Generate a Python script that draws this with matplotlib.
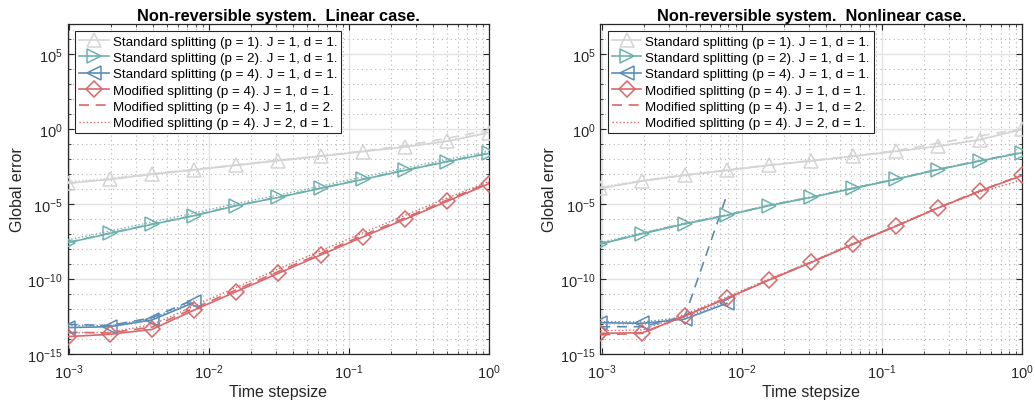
import numpy as np
import matplotlib
matplotlib.use("Agg")
import matplotlib.pyplot as plt
from matplotlib.ticker import FixedLocator, NullFormatter, FuncFormatter

plt.rcParams['font.family'] = ['Liberation Sans', 'DejaVu Sans']
plt.rcParams['mathtext.fontset'] = 'custom'
plt.rcParams['mathtext.rm'] = 'Liberation Sans'

# ---------------- data ----------------
stepsizes = [0.0009765625, 0.001953125, 0.00390625, 0.0078125, 0.015625,
             0.03125, 0.0625, 0.125, 0.25, 0.5, 1.0]
stepsizes_p4 = [0.0009765625, 0.001953125, 0.00390625, 0.0078125]

titles = ["Non-reversible system.  Linear case.",
          "Non-reversible system.  Nonlinear case."]

labels = ["Standard splitting (p = 1). J = 1, d = 1.",
          "Standard splitting (p = 2). J = 1, d = 1.",
          "Standard splitting (p = 4). J = 1, d = 1.",
          "Modified splitting (p = 4). J = 1, d = 1.",
          "Modified splitting (p = 4). J = 1, d = 2.",
          "Modified splitting (p = 4). J = 2, d = 1."]

# log10 of global error; solid = (J=1,d=1), dashed = (J=1,d=2), dotted = (J=2,d=1)
lin_std1_solid = [-3.62, -3.36, -3.02, -2.73, -2.42, -2.11, -1.82, -1.51, -1.20, -0.82, -0.24]
lin_std1_dash = [-3.60, -3.35, -3.00, -2.71, -2.40, -2.09, -1.80, -1.48, -1.10, -0.62, -0.07]
lin_std1_dot = [-3.50, -3.28, -2.96, -2.68, -2.38, -2.07, -1.78, -1.47, -1.16, -0.78, -0.20]
lin_std2_solid = [-7.58, -6.96, -6.36, -5.78, -5.11, -4.56, -3.96, -3.36, -2.76, -2.18, -1.62]
lin_std2_dash = [-7.56, -6.94, -6.34, -5.76, -5.10, -4.54, -3.94, -3.34, -2.74, -2.16, -1.60]
lin_std2_dot = [-7.40, -6.80, -6.20, -5.60, -4.96, -4.40, -3.80, -3.20, -2.60, -2.03, -1.47]
lin_std4_solid = [-13.24, -13.18, -12.73, -11.56]
lin_std4_dash = [-13.02, -13.10, -12.58, -11.36]
lin_std4_dot = [-13.10, -13.12, -12.62, -11.45]
lin_mod_solid = [-13.84, -13.69, -13.36, -12.07, -10.84, -9.62, -8.40, -7.20, -6.02, -4.82, -3.64]
lin_mod_dash = [-13.55, -13.60, -13.20, -11.95, -10.72, -9.50, -8.30, -7.10, -5.93, -4.74, -3.57]
lin_mod_dot = [-13.60, -13.55, -13.05, -11.80, -10.55, -9.33, -8.12, -6.93, -5.76, -4.60, -3.50]

nl_std1_solid = [-3.96, -3.47, -3.09, -2.76, -2.42, -2.13, -1.82, -1.49, -1.16, -0.71, -0.02]
nl_std1_dash = [-3.94, -3.45, -3.07, -2.74, -2.40, -2.11, -1.80, -1.45, -0.95, -0.45, 0.00]
nl_std1_dot = [-3.85, -3.42, -3.05, -2.72, -2.40, -2.10, -1.79, -1.47, -1.14, -0.69, -0.02]
nl_std2_solid = [-7.67, -6.98, -6.33, -5.76, -5.11, -4.56, -3.96, -3.36, -2.71, -2.13, -1.58]
nl_std2_dash = [-7.65, -6.96, -6.31, -5.74, -5.09, -4.54, -3.94, -3.34, -2.69, -2.11, -1.56]
nl_std2_dot = [-7.58, -6.92, -6.28, -5.71, -5.07, -4.52, -3.92, -3.32, -2.68, -2.10, -1.55]
nl_std4_solid = [-12.91, -12.96, -12.67, -11.62]
nl_std4_dash = [-13.18, -13.18, -12.51, -4.40]
nl_std4_dot = [-12.84, -12.86, -12.55, -11.50]
nl_mod_solid = [-13.62, -13.58, -12.47, -11.29, -10.07, -8.89, -7.67, -6.49, -5.27, -4.13, -3.09]
nl_mod_dash = [-13.72, -13.62, -12.45, -11.27, -10.05, -8.87, -7.65, -6.47, -5.25, -4.11, -3.07]
nl_mod_dot = [-13.45, -13.40, -12.35, -11.20, -10.00, -8.85, -7.62, -6.45, -5.25, -4.20, -3.40]

# ---------------- styles ----------------
c_gray = '#d4d4d4'
c_teal = '#6fb0ae'
c_blue = '#5b8cb5'
c_red = '#d9686b'
frame_col = '#262626'

fig = plt.figure(figsize=(10.35, 4.06), dpi=100)
ax_pos = [[0.0654, 0.1256, 0.4072, 0.8128], [0.58, 0.1256, 0.4077, 0.8128]]

datasets = [
    [(stepsizes, lin_std1_solid, lin_std1_dash, lin_std1_dot, c_gray, '^'),
     (stepsizes, lin_std2_solid, lin_std2_dash, lin_std2_dot, c_teal, '>'),
     (stepsizes_p4, lin_std4_solid, lin_std4_dash, lin_std4_dot, c_blue, '<'),
     (stepsizes, lin_mod_solid, lin_mod_dash, lin_mod_dot, c_red, 'D')],
    [(stepsizes, nl_std1_solid, nl_std1_dash, nl_std1_dot, c_gray, '^'),
     (stepsizes, nl_std2_solid, nl_std2_dash, nl_std2_dot, c_teal, '>'),
     (stepsizes_p4, nl_std4_solid, nl_std4_dash, nl_std4_dot, c_blue, '<'),
     (stepsizes, nl_mod_solid, nl_mod_dash, nl_mod_dot, c_red, 'D')],
]

def fmt(v, pos):
    e = int(round(np.log10(v)))
    return r'$\mathregular{10^{%d}}$' % e

for i in range(2):
    ax = fig.add_axes(ax_pos[i])
    handles = []
    dash_h = dot_h = None
    for (x, ys, yd, yt, col, mk) in datasets[i]:
        ms = 8 if mk == 'D' else 10
        h, = ax.plot(x, np.power(10.0, ys), color=col, lw=1.2, marker=mk, ms=ms,
                     mfc='none', mec=col, mew=1.1, zorder=4)
        handles.append(h)
        hd, = ax.plot(x, np.power(10.0, yd), color=col, lw=1.2, ls=(0, (6, 4)), zorder=3)
        ht, = ax.plot(x, np.power(10.0, yt), color=col, lw=1.0, ls=(0, (1, 1.6)), zorder=3)
        if col == c_red:
            dash_h, dot_h = hd, ht
    handles += [dash_h, dot_h]

    ax.set_xscale('log')
    ax.set_yscale('log')
    ax.set_xlim(0.0009765625, 1.0)
    ax.set_ylim(1e-15, 1e7)

    ax.xaxis.set_major_locator(FixedLocator([1e-3, 1e-2, 1e-1, 1e0]))
    ax.xaxis.set_minor_locator(FixedLocator([m * 10.0 ** d for d in (-3, -2, -1) for m in range(2, 10)]))
    ax.yaxis.set_major_locator(FixedLocator([1e-15, 1e-10, 1e-5, 1e0, 1e5]))
    ax.yaxis.set_minor_locator(FixedLocator([10.0 ** k for k in range(-15, 8) if k % 5 != 0]))
    ax.xaxis.set_major_formatter(FuncFormatter(fmt))
    ax.yaxis.set_major_formatter(FuncFormatter(fmt))
    ax.xaxis.set_minor_formatter(NullFormatter())
    ax.yaxis.set_minor_formatter(NullFormatter())

    ax.grid(True, which='major', color='#e3e3e3', lw=1.0, ls='-', zorder=0)
    ax.grid(True, which='minor', color='#b5b5b5', lw=0.8, ls=(0, (1, 3)), zorder=0)
    ax.set_axisbelow(True)

    ax.tick_params(which='both', direction='in', top=True, right=True, colors=frame_col,
                   labelsize=10.5, labelcolor='#262626')
    ax.tick_params(which='major', length=4.5, width=0.8)
    ax.tick_params(which='minor', length=2.5, width=0.6)
    ax.tick_params(axis='x', pad=6)
    for s in ax.spines.values():
        s.set_color(frame_col)
        s.set_linewidth(0.9)

    ax.set_xlabel("Time stepsize", fontsize=11.5, color='#262626', labelpad=2)
    ax.set_ylabel("Global error", fontsize=11.5, color='#262626', labelpad=2)
    ax.set_title(titles[i], fontsize=11.8, fontweight='bold', pad=3)

    leg = ax.legend(handles, labels, loc='upper left', bbox_to_anchor=(0.018, 0.978),
                    fontsize=9.6, frameon=True, fancybox=False, labelspacing=0.3,
                    handlelength=2.2, handletextpad=0.3, borderpad=0.3, borderaxespad=0.0)
    leg.get_frame().set_edgecolor(frame_col)
    leg.get_frame().set_linewidth(0.8)
    leg.get_frame().set_alpha(1.0)

fig.savefig("out.png", dpi=100)
